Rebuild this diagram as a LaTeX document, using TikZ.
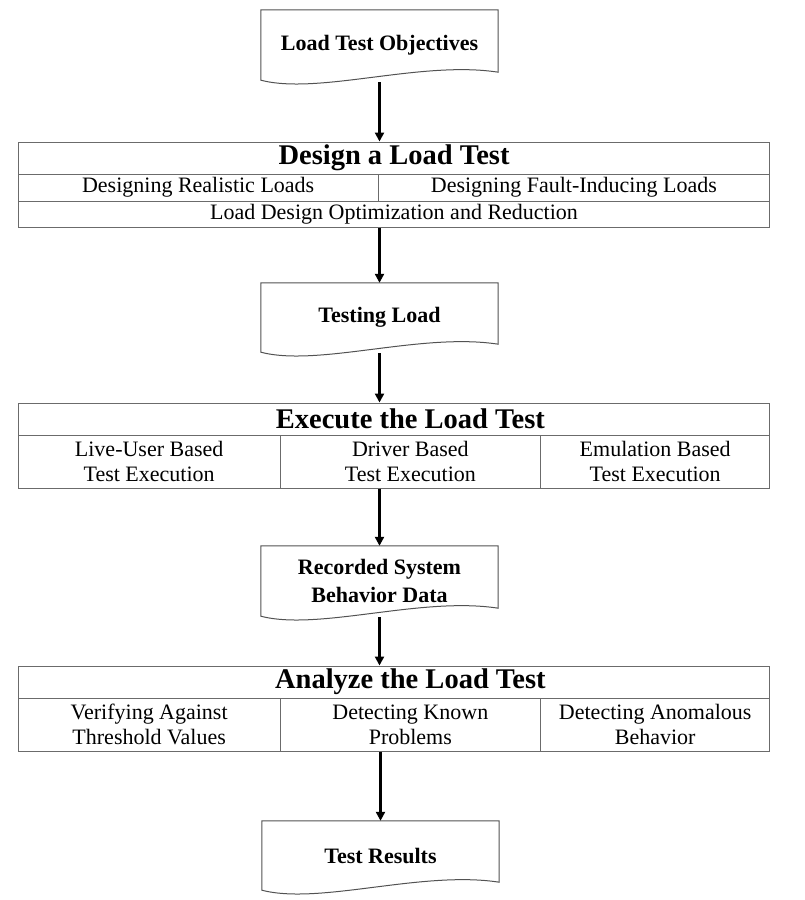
\documentclass[tikz,border=0pt]{standalone}
\usepackage{fontspec}
\setmainfont{Liberation Serif}
\usetikzlibrary{arrows.meta,calc}
\newcommand\topph{\vphantom{fdlk}}
\tikzset{
  cellbox/.style={draw=black!58, line width=1pt, inner sep=0pt, align=center,
    font=\fontsize{22}{25.5}\selectfont},
  headbox/.style={cellbox, font=\fontsize{28.5}{32}\selectfont\bfseries},
  headtext/.style={inner sep=0pt, font=\fontsize{28.5}{32}\selectfont\bfseries},
  docnode/.style={draw=none, inner sep=0pt, minimum width=237pt, align=center,
    font=\fontsize{22}{28}\selectfont\bfseries},
  docline/.style={draw=black!68, line width=1pt, line join=miter},
  flow/.style={line width=2.2pt, -{Triangle[length=9pt,width=9pt]}}
}
\newcommand\docoutline[1]{%
  \draw[docline] (#1.south west) -- (#1.north west) -- (#1.north east)
    -- ([yshift=8pt]#1.south east)
    .. controls ([xshift=160pt,yshift=20pt]#1.south west) and ([xshift=58pt,yshift=-15pt]#1.south west)
    .. (#1.south west) -- cycle;}
\begin{document}
\begin{tikzpicture}[x=1pt,y=-1pt]
\useasboundingbox (0,0) rectangle (805,900);
% documents
\node[docnode, minimum height=70pt] (d1) at (379.5,45) {Load Test Objectives};
\node[docnode, minimum height=69pt] (d2) at (379.5,317.5) {Testing Load};
\node[docnode, minimum height=70pt] (d3) at (379.5,581) {Recorded System\\Behavior Data};
\node[docnode, minimum height=69pt] (d4) at (380.5,855.5) {Test Results};
\docoutline{d1}
\docoutline{d2}
\docoutline{d3}
\docoutline{d4}
% table 1
\node[headbox, minimum width=751.4pt, minimum height=32pt] (t1h) at (394,158) {Design a Load Test};
\node[cellbox, minimum width=359.7pt, minimum height=27pt] (t1a) at (198.15,187.5) {Designing Realistic Loads};
\node[cellbox, minimum width=391.7pt, minimum height=27pt] (t1b) at (573.85,187.5) {Designing Fault-Inducing Loads};
\node[cellbox, minimum width=751.4pt, minimum height=26pt] (t1c) at (394,214) {Load Design Optimization and Reduction};
% table 2
\node[cellbox, minimum width=751.4pt, minimum height=32pt] (t2h) at (394,419) {};
\node[cellbox, minimum width=261.7pt, minimum height=53pt] (t2a) at (149.15,461.5) {\topph Live-User Based\\Test Execution};
\node[cellbox, minimum width=260.7pt, minimum height=53pt] (t2b) at (410.35,461.5) {\topph Driver Based\\Test Execution};
\node[cellbox, minimum width=229pt, minimum height=53pt] (t2c) at (655.2,461.5) {\topph Emulation Based\\Test Execution};
\node[headtext] (t2l) at (t2b |- t2h) {Execute the Load Test};
% table 3
\node[cellbox, minimum width=751.4pt, minimum height=32pt] (t3h) at (394,682) {};
\node[cellbox, minimum width=261.7pt, minimum height=53pt] (t3a) at (149.15,724.5) {\topph Verifying Against\\Threshold Values};
\node[cellbox, minimum width=260.7pt, minimum height=53pt] (t3b) at (410.35,724.5) {\topph Detecting Known\\Problems};
\node[cellbox, minimum width=229pt, minimum height=53pt] (t3c) at (655.2,724.5) {\topph Detecting Anomalous\\Behavior};
\node[headtext] (t3l) at (t3b |- t3h) {Analyze the Load Test};
% arrows
\draw[flow] ([yshift=-2pt]d1.south) -- (d1.south |- t1h.north);
\draw[flow] (d2.north |- t1c.south) -- (d2.north);
\draw[flow] ([yshift=-1pt]d2.south) -- (d2.south |- t2h.north);
\draw[flow] (d3.north |- t2a.south) -- (d3.north);
\draw[flow] ([yshift=-1pt]d3.south) -- (d3.south |- t3h.north);
\draw[flow] (d4.north |- t3a.south) -- (d4.north);
\end{tikzpicture}
\end{document}
